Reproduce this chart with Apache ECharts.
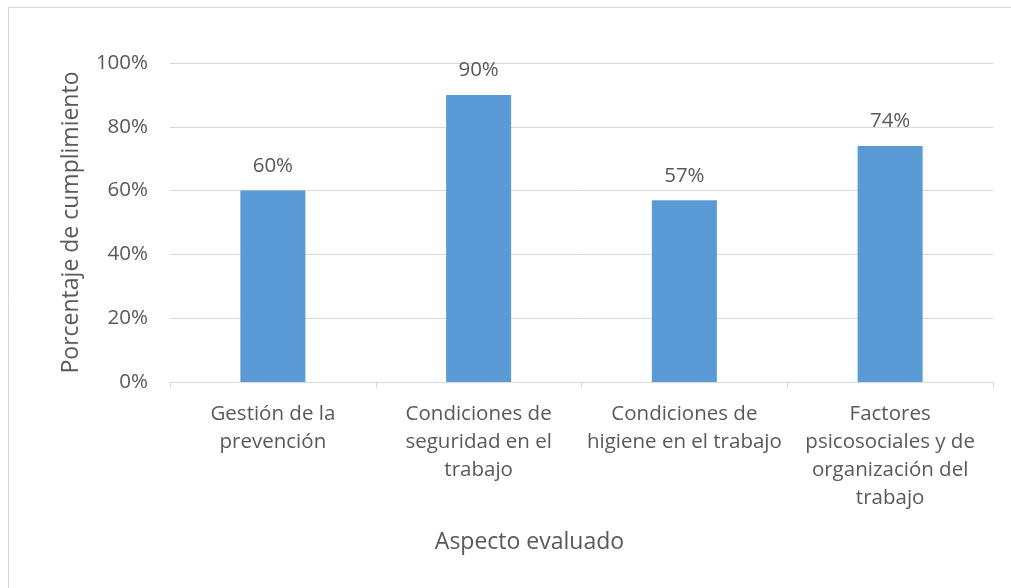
<!DOCTYPE html>
<html>
<head>
<meta charset="utf-8">
<style>
  html, body { margin: 0; padding: 0; background: #ffffff; }
  #chart { width: 1011px; height: 588px; }
</style>
<script src="https://cdn.jsdelivr.net/npm/echarts@6/dist/echarts.min.js"></script>
</head>
<body>
<div id="chart"></div>
<script>
// Aspects evaluated (line breaks as they wrap under each bar)
const categories = [
  'Gestión de la\nprevención',
  'Condiciones de\nseguridad en el\ntrabajo',
  'Condiciones de\nhigiene en el trabajo',
  'Factores\npsicosociales y de\norganización del\ntrabajo'
];
// Compliance percentage for each aspect
const values = [60, 90, 57, 74];
// Value axis ticks
const yTicks = [0, 20, 40, 60, 80, 100];

const FONT = '"Open Sans", Lato, sans-serif';
const TEXT = '#595959';
const GRID = '#d9d9d9';
const LABEL_SIZE = 20.5;
const TITLE_SIZE = 23;

const chart = echarts.init(document.getElementById('chart'), null, { renderer: 'canvas' });
chart.setOption({
  backgroundColor: '#ffffff',
  animation: false,
  textStyle: { fontFamily: FONT },
  graphic: [{
    type: 'rect',
    shape: { x: 8.5, y: 7.5, width: 1100, height: 700 },
    style: { fill: 'none', stroke: GRID, lineWidth: 1 },
    silent: true
  }],
  grid: { left: 170, right: 18, top: 63, bottom: 206 },
  xAxis: {
    type: 'category',
    data: categories,
    name: 'Aspecto evaluado',
    nameLocation: 'middle',
    nameGap: 149,
    nameTextStyle: { color: TEXT, fontSize: TITLE_SIZE, fontFamily: FONT, padding: [0, 104, 0, 0] },
    axisLine: { show: true, lineStyle: { color: GRID, width: 1 } },
    axisTick: { show: true, alignWithLabel: false, length: 6, lineStyle: { color: GRID } },
    axisLabel: {
      color: TEXT, fontSize: LABEL_SIZE, fontFamily: FONT, lineHeight: 28,
      margin: 18, interval: 0, align: 'center', verticalAlign: 'top'
    },
    splitLine: { show: false }
  },
  yAxis: {
    type: 'value',
    min: yTicks[0],
    max: yTicks[yTicks.length - 1],
    interval: yTicks[1] - yTicks[0],
    name: 'Porcentaje de cumplimiento',
    nameLocation: 'middle',
    nameGap: 87,
    nameRotate: 90,
    nameTextStyle: { color: TEXT, fontSize: TITLE_SIZE, fontFamily: FONT },
    axisLine: { show: false },
    axisTick: { show: false },
    axisLabel: {
      color: TEXT, fontSize: LABEL_SIZE, fontFamily: FONT, margin: 22,
      formatter: v => v + '%'
    },
    splitLine: { show: true, lineStyle: { color: GRID, width: 1 } }
  },
  series: [{
    type: 'bar',
    data: values,
    barWidth: '31.6%',
    itemStyle: { color: '#5b9bd5' },
    label: {
      show: true,
      position: 'top',
      distance: 14,
      color: TEXT,
      fontSize: LABEL_SIZE,
      fontFamily: FONT,
      formatter: p => p.value + '%'
    }
  }]
});
</script>
</body>
</html>
